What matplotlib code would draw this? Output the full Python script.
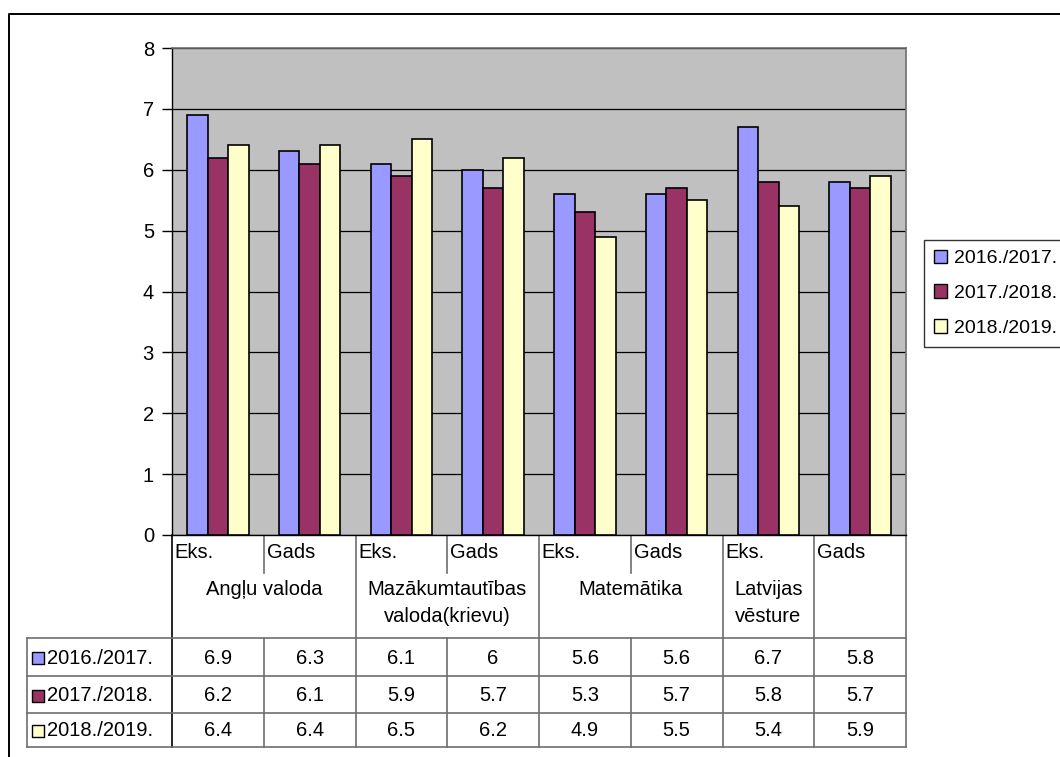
"""
Grouped bar chart with an Excel-style data table underneath: exam vs. year marks per subject.
"""
import matplotlib
matplotlib.use("Agg")
import matplotlib.pyplot as plt
import matplotlib.transforms as mtransforms
from matplotlib.patches import Patch

plt.rcParams["font.family"] = ["Liberation Sans", "DejaVu Sans"]

W, H = 1060, 757

columns = ["Eks.", "Gads", "Eks.", "Gads", "Eks.", "Gads", "Eks.", "Gads"]
subjects = ["Angļu valoda", "Mazākumtautības\nvaloda(krievu)", "Matemātika", "Latvijas\nvēsture"]
subject_centers = [0.5, 2.5, 4.5, 6.0]
full_dividers = [-0.5, 1.5, 3.5, 5.5, 6.5, 7.5]
short_dividers = [0.5, 2.5, 4.5]

series = ["2016./2017.", "2017./2018.", "2018./2019."]
values = [
    [6.9, 6.3, 6.1, 6, 5.6, 5.6, 6.7, 5.8],
    [6.2, 6.1, 5.9, 5.7, 5.3, 5.7, 5.8, 5.7],
    [6.4, 6.4, 6.5, 6.2, 4.9, 5.5, 5.4, 5.9],
]
colors = ["#9999FF", "#993366", "#FFFFCC"]

FS = 14.5
GRAY = "#6e6e6e"


def px(x0, y0, x1, y1):
    # pixel box (top-left origin) -> figure fraction rect
    return [x0 / W, 1 - y1 / H, (x1 - x0) / W, (y1 - y0) / H]


def main():
    fig = plt.figure(figsize=(W / 100, H / 100), dpi=100)

    # overlay in pixel coords for borders and table
    ov = fig.add_axes([0, 0, 1, 1])
    ov.set_xlim(0, W)
    ov.set_ylim(H, 0)
    ov.axis("off")

    ax = fig.add_axes(px(172, 48, 906, 535))
    ax.set_facecolor("#C0C0C0")
    n = len(columns)
    bw = 0.223
    handles = []
    for k, (vals, c) in enumerate(zip(values, colors)):
        xs = [i + (k - 1) * bw for i in range(n)]
        ax.bar(xs, vals, width=bw, color=c, edgecolor="black", linewidth=1.2, zorder=3)
        handles.append(Patch(facecolor=c, edgecolor="black", linewidth=1.0, label=series[k]))
    ax.set_xlim(-0.5, n - 0.5)
    ax.set_ylim(0, 8)
    ax.set_yticks(range(0, 9))
    ax.set_xticks([])
    ax.tick_params(axis="y", length=7, width=1, pad=6, labelsize=FS, colors="black")
    ax.grid(axis="y", color="black", linewidth=0.9, zorder=1)
    ax.set_axisbelow(True)
    for s in ("left", "bottom"):
        ax.spines[s].set_color("black")
        ax.spines[s].set_linewidth(1.0)
    for s in ("top", "right"):
        ax.spines[s].set_color(GRAY)
        ax.spines[s].set_linewidth(1.2)

    # outer chart border (only left and top visible in the crop)
    ov.plot([9, 9, W + 5], [H + 5, 14, 14], color="black", lw=1.4, clip_on=False)

    # table: x follows the bar axis, y in pixels
    tr = mtransforms.blended_transform_factory(ax.transData, ov.transData)
    y_top, y_cat, y_data = 535, 573, 638
    row_lines = [638, 676, 713, 747]

    for x in full_dividers:
        ov.plot([x, x], [y_top, row_lines[-1]], color=GRAY if x != -0.5 else "black",
                lw=1.2, transform=tr)
    for x in short_dividers:
        ov.plot([x, x], [y_top, y_cat], color=GRAY, lw=1.2, transform=tr)
        ov.plot([x, x], [y_data, row_lines[-1]], color=GRAY, lw=1.2, transform=tr)

    x_right = ax.transData.transform((n - 0.5, 0))[0]
    for y in row_lines:
        ov.plot([27, x_right], [y, y], color=GRAY, lw=1.2)
    ov.plot([27, 27], [row_lines[0], row_lines[-1]], color=GRAY, lw=1.2)

    for i, lab in enumerate(columns):
        ov.text(i - 0.5 + 0.03, 553, lab, transform=tr, ha="left", va="center", fontsize=FS)
    for xc, lab in zip(subject_centers, subjects):
        ov.text(xc, 580, lab, transform=tr, ha="center", va="top", fontsize=FS, linespacing=1.5)

    for k, (name, vals, c) in enumerate(zip(series, values, colors)):
        yc = (row_lines[k] + row_lines[k + 1]) / 2 + 1
        ov.scatter([38], [yc], marker="s", s=70, facecolor=c, edgecolor="black", linewidths=1.0)
        ov.text(47, yc, name, ha="left", va="center", fontsize=FS)
        for i, v in enumerate(vals):
            ov.text(i, yc, f"{v:g}", transform=tr, ha="center", va="center", fontsize=FS)

    leg = fig.legend(handles=handles, loc="upper left",
                     bbox_to_anchor=(924 / W, 1 - 240 / H), borderaxespad=0,
                     fontsize=FS - 0.5, frameon=True, fancybox=False,
                     handlelength=0.7, handleheight=0.7, handletextpad=0.35,
                     labelspacing=0.88, borderpad=0.5)
    leg.get_frame().set_edgecolor("black")
    leg.get_frame().set_linewidth(1.0)

    fig.savefig("out.png", dpi=100)


if __name__ == "__main__":
    main()
